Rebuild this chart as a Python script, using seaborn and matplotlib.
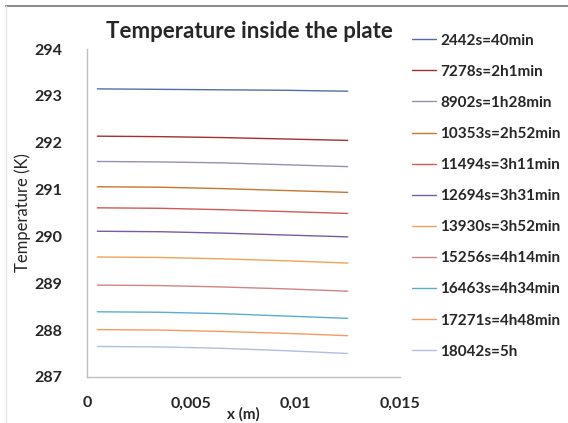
import numpy as np
import pandas as pd
import matplotlib
matplotlib.use("Agg")
import matplotlib.pyplot as plt
import matplotlib.ticker as mticker
from matplotlib.lines import Line2D
import seaborn as sns

# positions along the plate thickness (m)
x_pos = [0.0005, 0.0035, 0.0065, 0.0095, 0.0125]

labels = ["2442s=40min", "7278s=2h1min", "8902s=1h28min", "10353s=2h52min",
          "11494s=3h11min", "12694s=3h31min", "13930s=3h52min", "15256s=4h14min",
          "16463s=4h34min", "17271s=4h48min", "18042s=5h"]

# temperature profiles (K)
T_2442 = [293.15, 293.14, 293.13, 293.12, 293.10]
T_7278 = [292.14, 292.13, 292.11, 292.08, 292.05]
T_8902 = [291.60, 291.59, 291.57, 291.53, 291.49]
T_10353 = [291.06, 291.05, 291.02, 290.98, 290.94]
T_11494 = [290.61, 290.60, 290.57, 290.53, 290.49]
T_12694 = [290.11, 290.10, 290.07, 290.03, 289.99]
T_13930 = [289.56, 289.55, 289.52, 289.48, 289.43]
T_15256 = [288.96, 288.95, 288.92, 288.88, 288.83]
T_16463 = [288.39, 288.38, 288.35, 288.30, 288.25]
T_17271 = [288.01, 288.00, 287.97, 287.93, 287.88]
T_18042 = [287.65, 287.64, 287.61, 287.56, 287.50]

series = [T_2442, T_7278, T_8902, T_10353, T_11494, T_12694,
          T_13930, T_15256, T_16463, T_17271, T_18042]

colors = ["#4F6FA8", "#A3302F", "#9A8DB5", "#C8762F", "#D05A55", "#7A5C9C",
          "#F2A25C", "#D08585", "#5AAFC8", "#F59A63", "#AFC0DD"]

rows = []
for lab, vals in zip(labels, series):
    for xv, tv in zip(x_pos, vals):
        rows.append({"x": xv, "T": tv, "time": lab})
df = pd.DataFrame(rows)

sns.set_theme(style="white")
plt.rcParams["font.family"] = ["Lato", "DejaVu Sans"]

fig = plt.figure(figsize=(5.68, 4.23), dpi=100)
ax = fig.add_axes([0.153, 0.109, 0.551, 0.775])

sns.lineplot(data=df, x="x", y="T", hue="time", hue_order=labels,
             palette=colors, linewidth=1.0, ax=ax, legend=True)

ax.set_xlim(0, 0.015)
ax.set_ylim(287, 294)
ax.set_xticks([0, 0.005, 0.01, 0.015])
ax.set_yticks(range(287, 295))
ax.xaxis.set_major_formatter(mticker.FuncFormatter(
    lambda v, p: "0" if v == 0 else ("%g" % v).replace(".", ",")))
for t in ax.get_xticklabels() + ax.get_yticklabels():
    t.set_fontweight("bold")
    t.set_fontsize(11.5)
ax.tick_params(axis="x", length=0, pad=14)
ax.tick_params(axis="y", length=0, pad=18)

ax.set_xlabel("x (m)", fontsize=11, fontweight="bold", labelpad=-2)
ax.set_ylabel("Temperature (K)", fontsize=12, labelpad=2)
ax.set_title("Temperature inside the plate", fontsize=16, fontweight="bold",
             pad=8, x=0.518)

for s in ["top", "right"]:
    ax.spines[s].set_visible(False)
for s in ["left", "bottom"]:
    ax.spines[s].set_color("#BFBFBF")
    ax.spines[s].set_linewidth(1.0)

ax.legend(loc="upper left", bbox_to_anchor=(0.714, 0.935),
          bbox_transform=fig.transFigure, frameon=False,
          prop={"weight": "bold", "size": 11}, labelspacing=1.12,
          handlelength=1.6, handletextpad=0.25, borderaxespad=0)

# chart area border (partly cropped in the original)
fig.add_artist(Line2D([0.011, 1.0], [0.986, 0.986], color="#8C8C8C", lw=1.5))
fig.add_artist(Line2D([0.011, 0.011], [0.0, 0.986], color="#E3E3E3", lw=1.0))

fig.savefig("out.png", dpi=100)
